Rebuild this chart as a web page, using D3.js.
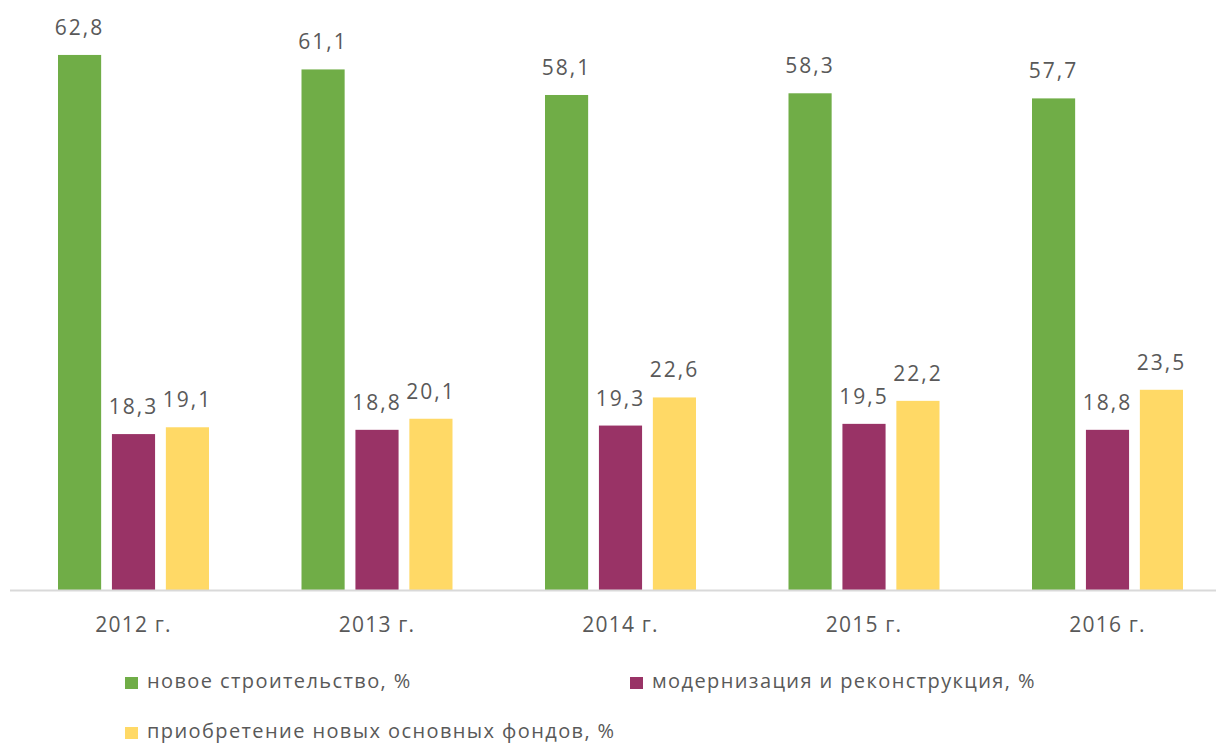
<!DOCTYPE html>
<html>
<head>
<meta charset="utf-8">
<script src="https://cdn.jsdelivr.net/npm/d3@7"></script>
<style>
  body { margin: 0; background: #fff; }
  text { font-family: "Open Sans", sans-serif; fill: #595959; }
</style>
</head>
<body>
<div id="chart"></div>
<script>
// data
const years = ["2012 г.", "2013 г.", "2014 г.", "2015 г.", "2016 г."];
const seriesNames = ["новое строительство, %", "модернизация и реконструкция, %", "приобретение новых основных фондов, %"];
const newBuild = [62.8, 61.1, 58.1, 58.3, 57.7];
const modern = [18.3, 18.8, 19.3, 19.5, 18.8];
const acquire = [19.1, 20.1, 22.6, 22.2, 23.5];
const colors = ["#70AD47", "#993366", "#FFD966"];

const width = 1216, height = 745;
const baseY = 590;

const rows = years.map((y, i) => ({ year: y, values: [newBuild[i], modern[i], acquire[i]] }));

const svg = d3.select("#chart").append("svg")
  .attr("width", width).attr("height", height);

// x axis band per year, inner band per series
const x0 = d3.scaleBand()
  .domain(years)
  .range([11.75, 11.75 + 5 * 243.5])
  .paddingInner(0)
  .paddingOuter(0);

const x1 = d3.scaleBand()
  .domain(d3.range(3))
  .range([46.25, 243.5 - 46.25])
  .paddingInner(0.2);

const y = d3.scaleLinear()
  .domain([0, 70])
  .range([baseY, baseY - 70 * 8.52]);

const groups = svg.selectAll(".grp")
  .data(rows)
  .enter().append("g")
  .attr("class", "grp")
  .attr("transform", d => `translate(${x0(d.year)},0)`);

groups.selectAll("rect")
  .data(d => d.values)
  .enter().append("rect")
  .attr("x", (d, i) => x1(i))
  .attr("y", d => y(d))
  .attr("width", x1.bandwidth())
  .attr("height", d => baseY - y(d))
  .attr("fill", (d, i) => colors[i]);

// value labels
groups.selectAll("text.val")
  .data(d => d.values)
  .enter().append("text")
  .attr("class", "val")
  .attr("x", (d, i) => x1(i) + x1.bandwidth() / 2)
  .attr("y", d => y(d) - 20)
  .attr("text-anchor", "middle")
  .style("font-size", "21px")
  .style("letter-spacing", "2px")
  .text(d => d.toFixed(1).replace(".", ","));

// baseline
svg.append("line")
  .attr("x1", 10).attr("x2", width)
  .attr("y1", baseY + 0.5).attr("y2", baseY + 0.5)
  .attr("stroke", "#d9d9d9")
  .attr("stroke-width", 2);

// category labels
svg.selectAll("text.cat")
  .data(years)
  .enter().append("text")
  .attr("class", "cat")
  .attr("x", d => x0(d) + x0.bandwidth() / 2)
  .attr("y", 632)
  .attr("text-anchor", "middle")
  .style("font-size", "21px")
  .style("letter-spacing", "1.2px")
  .text(d => d);

// legend
const legendPos = [[125, 688], [630, 688], [125, 738]];
const legend = svg.selectAll(".leg")
  .data(seriesNames)
  .enter().append("g")
  .attr("class", "leg")
  .attr("transform", (d, i) => `translate(${legendPos[i][0]},${legendPos[i][1]})`);

legend.append("rect")
  .attr("x", 0).attr("y", -11)
  .attr("width", 13).attr("height", 12)
  .attr("fill", (d, i) => colors[i]);

legend.append("text")
  .attr("x", 22).attr("y", 0)
  .style("font-size", "20px")
  .style("letter-spacing", "1.4px")
  .text(d => d);
</script>
</body>
</html>
